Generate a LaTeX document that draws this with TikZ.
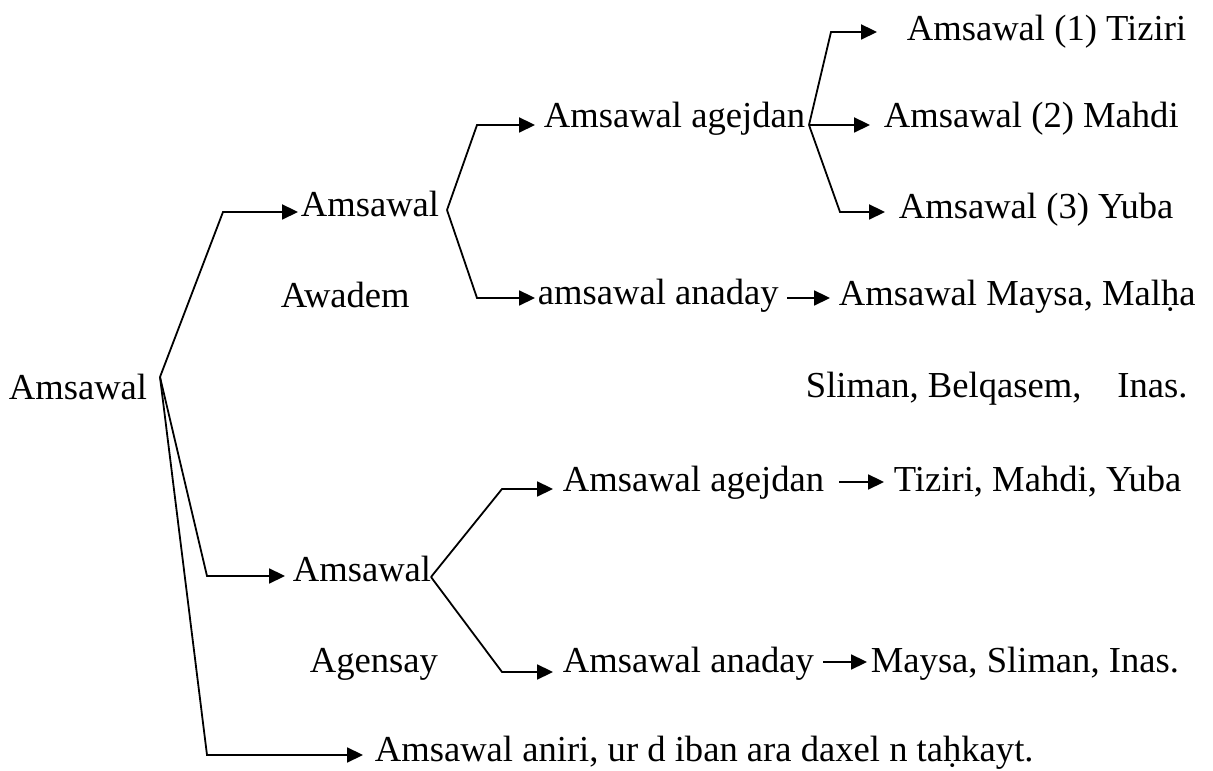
\documentclass[tikz,border=0pt]{standalone}
\usepackage{fontspec}
\setmainfont{Liberation Serif}
\usetikzlibrary{arrows.meta}

\begin{document}
\begin{tikzpicture}[x=0.3333pt, y=-0.3333pt, line width=0.6pt,
                    every node/.style={anchor=base west,
                                       inner sep=0pt,
                                       font=\fontsize{12.2}{14}\selectfont},
                    arr/.style={-{Triangle[length=5.3pt,width=5pt]}}]
                      \useasboundingbox (0,0) rectangle (1213,771);

                      \node (root)  at (8, 400)   {Amsawal};
                      \node (awd)   at (300, 217) {Amsawal};
                      \node (awdl)  at (280, 308) {Awadem};
                      \node (agj)   at (543, 128) {Amsawal agejdan};
                      \node (and)   at (537, 305) {amsawal anaday};
                      \node (t1)    at (906, 41)  {Amsawal (1) Tiziri};
                      \node (t2)    at (883, 128) {Amsawal (2) Mahdi};
                      \node (t3)    at (898, 219) {Amsawal (3) Yuba};
                      \node (mays)  at (838, 306) {Amsawal Maysa, Malḥa};
                      \node (slim)  at (805, 398) {Sliman, Belqasem,\hspace{12pt}Inas.};
                      \node (gns)   at (292, 582) {Amsawal};
                      \node (gnsl)  at (309, 673) {Agensay};
                      \node (agj2)  at (562, 492) {Amsawal agejdan};
                      \node (tiz)   at (893, 492) {Tiziri, Mahdi, Yuba};
                      \node (and2)  at (562, 673) {Amsawal anaday};
                      \node (mays2) at (870, 673) {Maysa, Sliman, Inas.};
                      \node (anr)   at (374, 762) {Amsawal aniri, ur d iban ara daxel n taḥkayt.};

                      \coordinate (f0) at (160, 377);
                      \coordinate (f1) at (447, 210);
                      \coordinate (f2) at (809, 125);
                      \coordinate (f3) at (431, 577);
                      \coordinate (c1) at (223, 212);
                      \coordinate (c2) at (207, 576);
                      \coordinate (c3) at (207, 755);
                      \coordinate (c4) at (477, 125);
                      \coordinate (c5) at (477, 298);
                      \coordinate (c6) at (831, 32);
                      \coordinate (c7) at (840, 212);
                      \coordinate (c8) at (502, 489);
                      \coordinate (c9) at (502, 672);
                      \coordinate (s1) at (787, 298);
                      \coordinate (s2) at (839, 482);
                      \coordinate (s3) at (823, 662);

                      \foreach \f/\c/\n/\g in {f0/c1/awd/2, f0/c2/gns/7, f0/c3/anr/11,
                                               f1/c4/agj/8, f1/c5/and/2,
                                               f2/c6/t1/29, f2/c7/t3/13,
                                               f3/c8/agj2/9, f3/c9/and2/9} {
                              \draw[arr, shorten >=\g*0.3333pt] (\f) -- (\c) -- (\c -| \n.west);
                          }
                      \draw[arr, shorten >=13*0.3333pt] (f2) -- (f2 -| t2.west);

                      \foreach \i/\j/\g in {s1/mays/8, s2/tiz/9, s3/mays2/3} {
                              \draw[arr, shorten >=\g*0.3333pt] (\i) -- (\i -| \j.west);
                          }
                  \end{tikzpicture}
\end{document}
